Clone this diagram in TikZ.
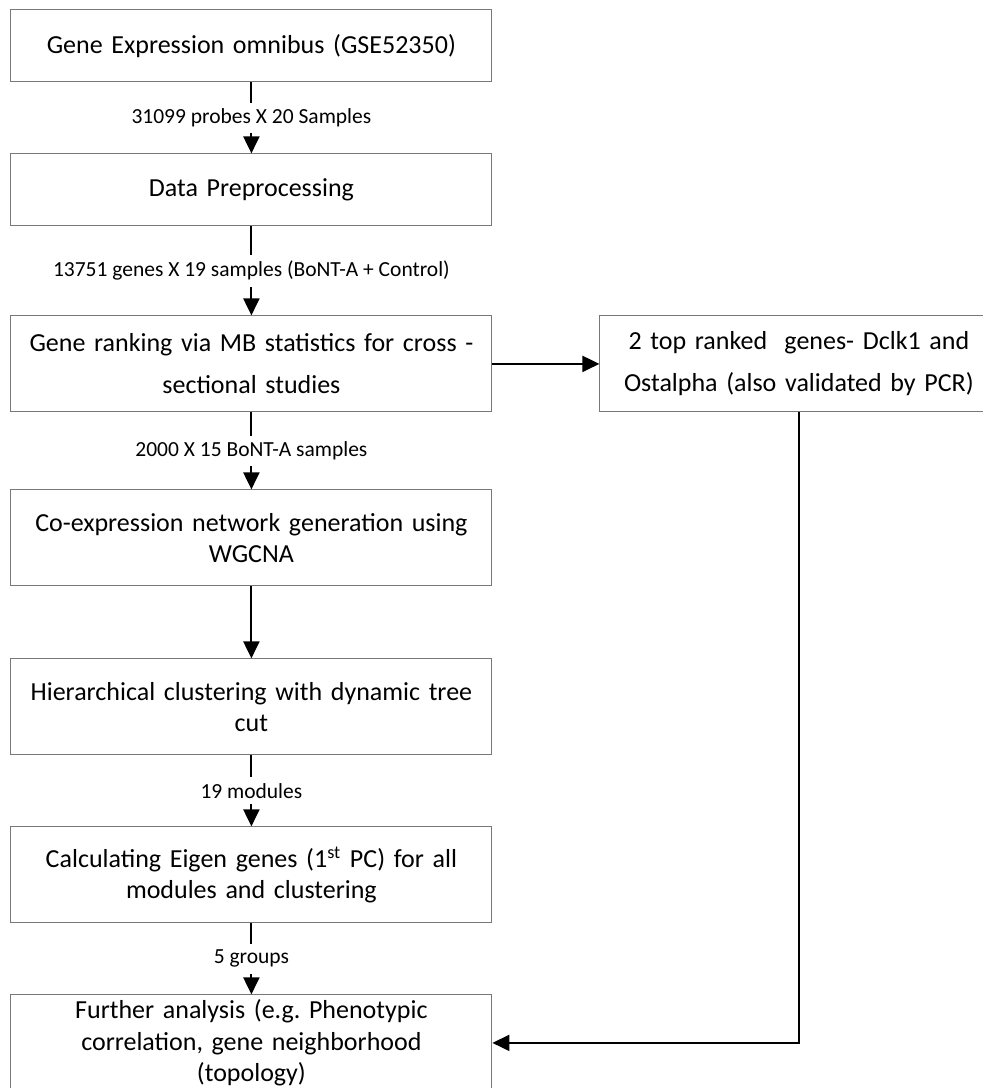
\documentclass[tikz,border=0pt]{standalone}
\usepackage{fontspec}
\setmainfont{Carlito}
\usetikzlibrary{arrows.meta, positioning}
\definecolor{colorBox}{RGB}{120, 120, 120}
\tikzstyle{process} = [rectangle, draw=colorBox, line width=0.5pt, minimum width=240.5pt, minimum height=48pt, text width=232pt, align=center, font=\fontsize{13}{15.75}\selectfont]
\tikzstyle{processShort} = [process, minimum height=36pt]
\tikzstyle{processWide} = [process, font=\fontsize{13}{21}\selectfont]
\tikzstyle{arrow} = [line width=1pt, -{Triangle[width=8pt, length=8.5pt]}]
\tikzstyle{count} = [fill=white, inner sep=3pt, text=black, font=\fontsize{10.75}{12}\selectfont]

\begin{document}
\begin{tikzpicture}

	\useasboundingbox (0,0) rectangle (491pt,-544pt);

	\matrix[column sep=53.5pt, row sep=35.5pt, inner sep=0pt, anchor=north west] at (5pt,-4.5pt)
	{
		% data source
		\node (pGEO)[processShort]{Gene Expression omnibus (GSE52350)};
		& \\

		\node (pPreproc)[processShort]{Data Preprocessing};
		& \\[9pt]

		% ranking and top genes
		\node (pRanking)[processWide]{Gene ranking via MB statistics for cross - \\ sectional studies};
		& \node (pTopGenes)[processWide, minimum width=199pt, text width=190pt]{2 top ranked\ \ genes- Dclk1 and \\ Ostalpha (also validated by PCR)};
		\\[3pt]

		\node (pNetwork)[process]{Co-expression network generation using \\ WGCNA};
		& \\[0.5pt]

		\node (pCluster)[process]{Hierarchical clustering with dynamic tree \\ cut};
		& \\

		\node (pEigen)[process]{Calculating Eigen genes (1\textsuperscript{st} PC) for all \\ modules and clustering};
		& \\

		% end
		\node (pFurther)[process]{Further analysis (e.g.\ Phenotypic \\ correlation, gene neighborhood \\ (topology)};
		& \\
	};

	% lines and arrows
	\draw[arrow](pGEO) -- node[count]{31099 probes X 20 Samples} (pPreproc);
	\draw[arrow](pPreproc) -- node[count]{13751 genes X 19 samples (BoNT-A + Control)} (pRanking);
	\draw[arrow](pRanking) -- node[count]{2000 X 15 BoNT-A samples} (pNetwork);
	\draw[arrow](pNetwork) -- (pCluster);
	\draw[arrow](pCluster) -- node[count]{19 modules} (pEigen);
	\draw[arrow](pEigen) -- node[count]{5 groups} (pFurther);

	\draw[arrow](pRanking) -- (pTopGenes);
	\draw[arrow](pTopGenes.south) |- (pFurther.east);

\end{tikzpicture}
\end{document}
